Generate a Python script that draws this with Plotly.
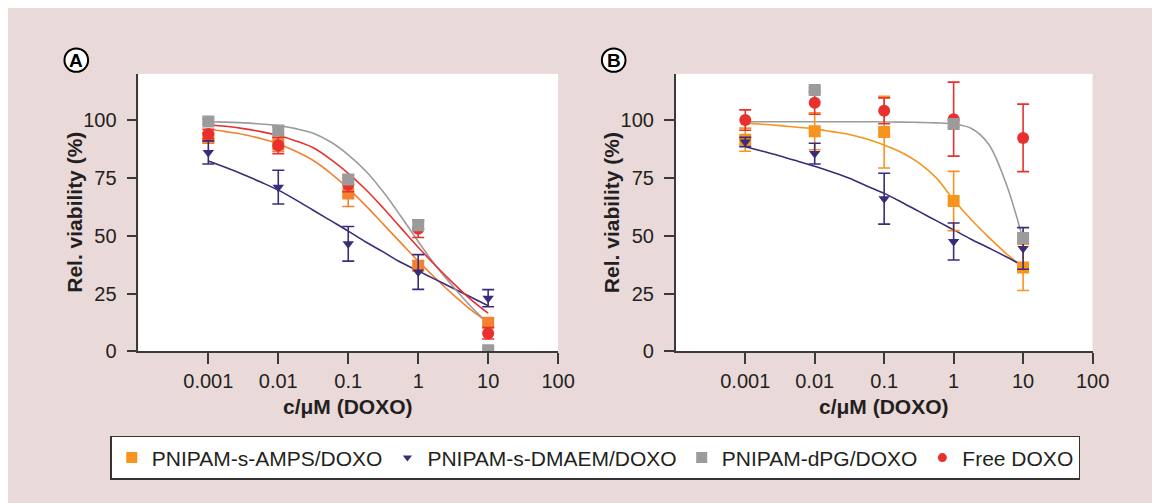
import plotly.graph_objects as go

# ---------------- data ----------------
conc = [0.001, 0.01, 0.1, 1, 10]
tick_vals = [0.001, 0.01, 0.1, 1, 10, 100]
tick_text = ["0.001", "0.01", "0.1", "1", "10", "100"]
y_ticks = [0, 25, 50, 75, 100]

series_names = ["PNIPAM-s-AMPS/DOXO", "PNIPAM-s-DMAEM/DOXO", "PNIPAM-dPG/DOXO", "Free DOXO"]

# Panel A measured points (mean, error)
amps_A = [92.3, 89.5, 68.2, 37.0, 12.4]
amps_A_err = [2.0, 3.0, 5.6, 2.0, 2.0]
dmaem_A = [86.0, 71.0, 46.5, 34.3, 23.0]
dmaem_A_err = [5.0, 7.3, 7.5, 7.5, 3.7]
dpg_A = [99.4, 95.5, 74.3, 54.5, 0.5]
dpg_A_err = [1.0, 1.5, 2.0, 2.0, 1.0]
free_A = [94.0, 89.0, 72.0, 53.0, 7.8]
free_A_err = [2.0, 3.5, 3.0, 3.8, 2.5]

# Panel B measured points (mean, error)
amps_B = [91.5, 95.2, 94.8, 65.0, 36.3]
amps_B_err = [5.0, 8.0, 15.5, 12.8, 10.0]
dmaem_B = [90.5, 85.5, 66.0, 47.5, 44.5]
dmaem_B_err = [2.0, 4.5, 11.0, 8.0, 9.0]
dpg_B = [None, 113.0, None, 98.3, 49.0]
dpg_B_err = [0.0, 1.0, 0.0, 1.5, 2.0]
free_B = [100.0, 107.5, 104.0, 100.4, 92.3]
free_B_err = [4.4, 5.0, 5.6, 16.0, 14.6]

# fitted curves at quarter-decade concentrations
curve_x = [0.001, 0.00178, 0.00316, 0.00562, 0.01, 0.0178, 0.0316, 0.0562, 0.1,
           0.178, 0.316, 0.562, 1, 1.78, 3.16, 5.62, 10]
fit_amps_A = [96, 95, 93.8, 92, 89.7, 86.5, 82.5, 77, 70.5, 63, 55, 47, 39, 31.5, 24.5, 18, 12.5]
fit_dmaem_A = [82.3, 79.5, 76.5, 73.2, 69.7, 65.5, 61, 56.5, 52, 47.3, 43, 38.5, 34.8, 31, 27.3, 23.5, 19.7]
fit_dpg_A = [99.3, 99.1, 98.8, 98.3, 97.6, 96.3, 94.3, 90.5, 85, 78, 69, 58.5, 47.5, 37, 28, 19.5, 12]
fit_free_A = [98, 97.3, 96.3, 95, 93.3, 91, 88, 83, 77, 70, 62, 53.5, 45, 37, 29.5, 22.5, 16.5]

fit_amps_B = [98.7, 98.2, 97.6, 96.9, 96.2, 95, 93.8, 91.8, 89.2, 86, 81.5, 75, 65.5, 57, 49.5, 42.5, 36.3]
fit_dmaem_B = [88.5, 86.5, 84.5, 82.3, 80, 77.5, 74.8, 71.5, 68.3, 64.5, 60.5, 56.5, 52.5, 48.5, 44.8, 41, 37]
fit_dpg_B = [99.3, 99.3, 99.3, 99.3, 99.3, 99.3, 99.3, 99.3, 99.2, 99.1, 99.0, 98.8, 98.3, 96.5, 89.8, 73, 48.3]

# ---------------- style ----------------
W, H = 1160, 503
BG = "#EAD9D9"
TXT = "#231F20"
AX = "#3A3A3A"
FONT = "Liberation Sans, Arial, Helvetica, sans-serif"
col_orange_A = "#F28130"
col_orange_B = "#F7941E"
col_navy = "#3A2C7A"
col_gray = "#9B9B9B"
col_red = "#E8302E"

fig = go.Figure()


def add_panel(xa, ya, fits, pts):
    for yv, col in fits:
        fig.add_trace(go.Scatter(x=curve_x, y=yv, mode="lines", xaxis=xa, yaxis=ya,
                                 line=dict(color=col, width=1.6, shape="spline"),
                                 showlegend=False, hoverinfo="skip"))
    for yv, err, col, sym, size in pts:
        fig.add_trace(go.Scatter(x=conc, y=yv, mode="markers", xaxis=xa, yaxis=ya,
                                 marker=dict(color=col, symbol=sym, size=size, line=dict(width=0)),
                                 error_y=dict(type="data", array=err, visible=True, color=col,
                                              thickness=1.6, width=6),
                                 showlegend=False))


add_panel("x", "y",
          [(fit_amps_A, col_orange_A), (fit_dmaem_A, col_navy), (fit_dpg_A, col_gray), (fit_free_A, col_red)],
          [(amps_A, amps_A_err, col_orange_A, "square", 12),
           (dmaem_A, dmaem_A_err, col_navy, "triangle-down", 10),
           (free_A, free_A_err, col_red, "circle", 12),
           (dpg_A, dpg_A_err, col_gray, "square", 12)])

add_panel("x2", "y2",
          [(fit_amps_B, col_orange_B), (fit_dmaem_B, col_navy), (fit_dpg_B, col_gray)],
          [(amps_B, amps_B_err, col_orange_B, "square", 12),
           (dmaem_B, dmaem_B_err, col_navy, "triangle-down", 10),
           (free_B, free_B_err, col_red, "circle", 12),
           (dpg_B, dpg_B_err, col_gray, "square", 12)])

# legend-only traces
for name, col, sym, size in zip(series_names,
                                [col_orange_B, col_navy, col_gray, col_red],
                                ["square", "triangle-down", "square", "circle"],
                                [11, 8, 11, 9]):
    fig.add_trace(go.Scatter(x=[None], y=[None], mode="markers", name=name,
                             marker=dict(color=col, symbol=sym, size=size),
                             xaxis="x", yaxis="y", showlegend=True))

ydom = [1 - 351 / H, 1 - 67.3 / H]
xdomA = [132.3 / W, 558.3 / W]
xdomB = [677.7 / W, 1100.7 / W]

xaxis_common = dict(type="log", range=[-4, 2], tickvals=tick_vals, ticktext=tick_text,
                    showline=True, linecolor=AX, linewidth=1.6, ticks="outside", ticklen=11,
                    tickwidth=1.5, tickcolor=AX, showgrid=False, zeroline=False,
                    tickfont=dict(family=FONT, size=20, color=TXT), fixedrange=True)
yaxis_common = dict(range=[0, 120], tickvals=y_ticks, showline=True, linecolor=AX, linewidth=1.6,
                    ticks="outside", ticklen=10, tickwidth=1.5, tickcolor=AX, showgrid=False,
                    zeroline=False, tickfont=dict(family=FONT, size=20, color=TXT),
                    ticklabelstandoff=6, fixedrange=True)

fig.update_layout(
    width=W, height=H,
    margin=dict(l=0, r=0, t=0, b=0),
    paper_bgcolor=BG, plot_bgcolor="white",
    font=dict(family=FONT, color=TXT),
    xaxis=dict(domain=xdomA, anchor="y", **xaxis_common),
    yaxis=dict(domain=ydom, anchor="x", **yaxis_common),
    xaxis2=dict(domain=xdomB, anchor="y2", **xaxis_common),
    yaxis2=dict(domain=ydom, anchor="x2", **yaxis_common),
    legend=dict(orientation="h", x=596 / W, y=1 - 460 / H, xanchor="center", yanchor="middle",
                bgcolor="white", bordercolor="#333333", borderwidth=1.5,
                font=dict(family=FONT, size=21, color=TXT), itemclick=False),
    showlegend=True,
)

annotations = []
shapes = []
for xd, label in [(xdomA, "A"), (xdomB, "B")]:
    cx = (xd[0] + xd[1]) / 2
    annotations.append(dict(text="<b>c/μM (DOXO)</b>", x=cx, y=1 - 407 / H, xref="paper", yref="paper",
                            showarrow=False, font=dict(family=FONT, size=21, color=TXT),
                            xanchor="center", yanchor="middle"))
    ax_px = xd[0] * W
    annotations.append(dict(text="<b>Rel. viability (%)</b>", x=(ax_px - 65) / W, y=1 - 209 / H,
                            xref="paper", yref="paper", showarrow=False, textangle=-90,
                            font=dict(family=FONT, size=21, color=TXT),
                            xanchor="center", yanchor="middle"))
    ccx = ax_px - 63
    ccy = 53.3
    r = 12
    shapes.append(dict(type="circle", xref="paper", yref="paper",
                       x0=(ccx - r) / W, x1=(ccx + r) / W, y0=1 - (ccy + r) / H, y1=1 - (ccy - r) / H,
                       line=dict(color="black", width=2), fillcolor="white"))
    annotations.append(dict(text="<b>" + label + "</b>", x=ccx / W, y=1 - ccy / H, xref="paper",
                            yref="paper", showarrow=False, font=dict(family=FONT, size=19, color="black"),
                            xanchor="center", yanchor="middle"))

fig.update_layout(annotations=annotations, shapes=shapes)

fig.write_html("out.html")
